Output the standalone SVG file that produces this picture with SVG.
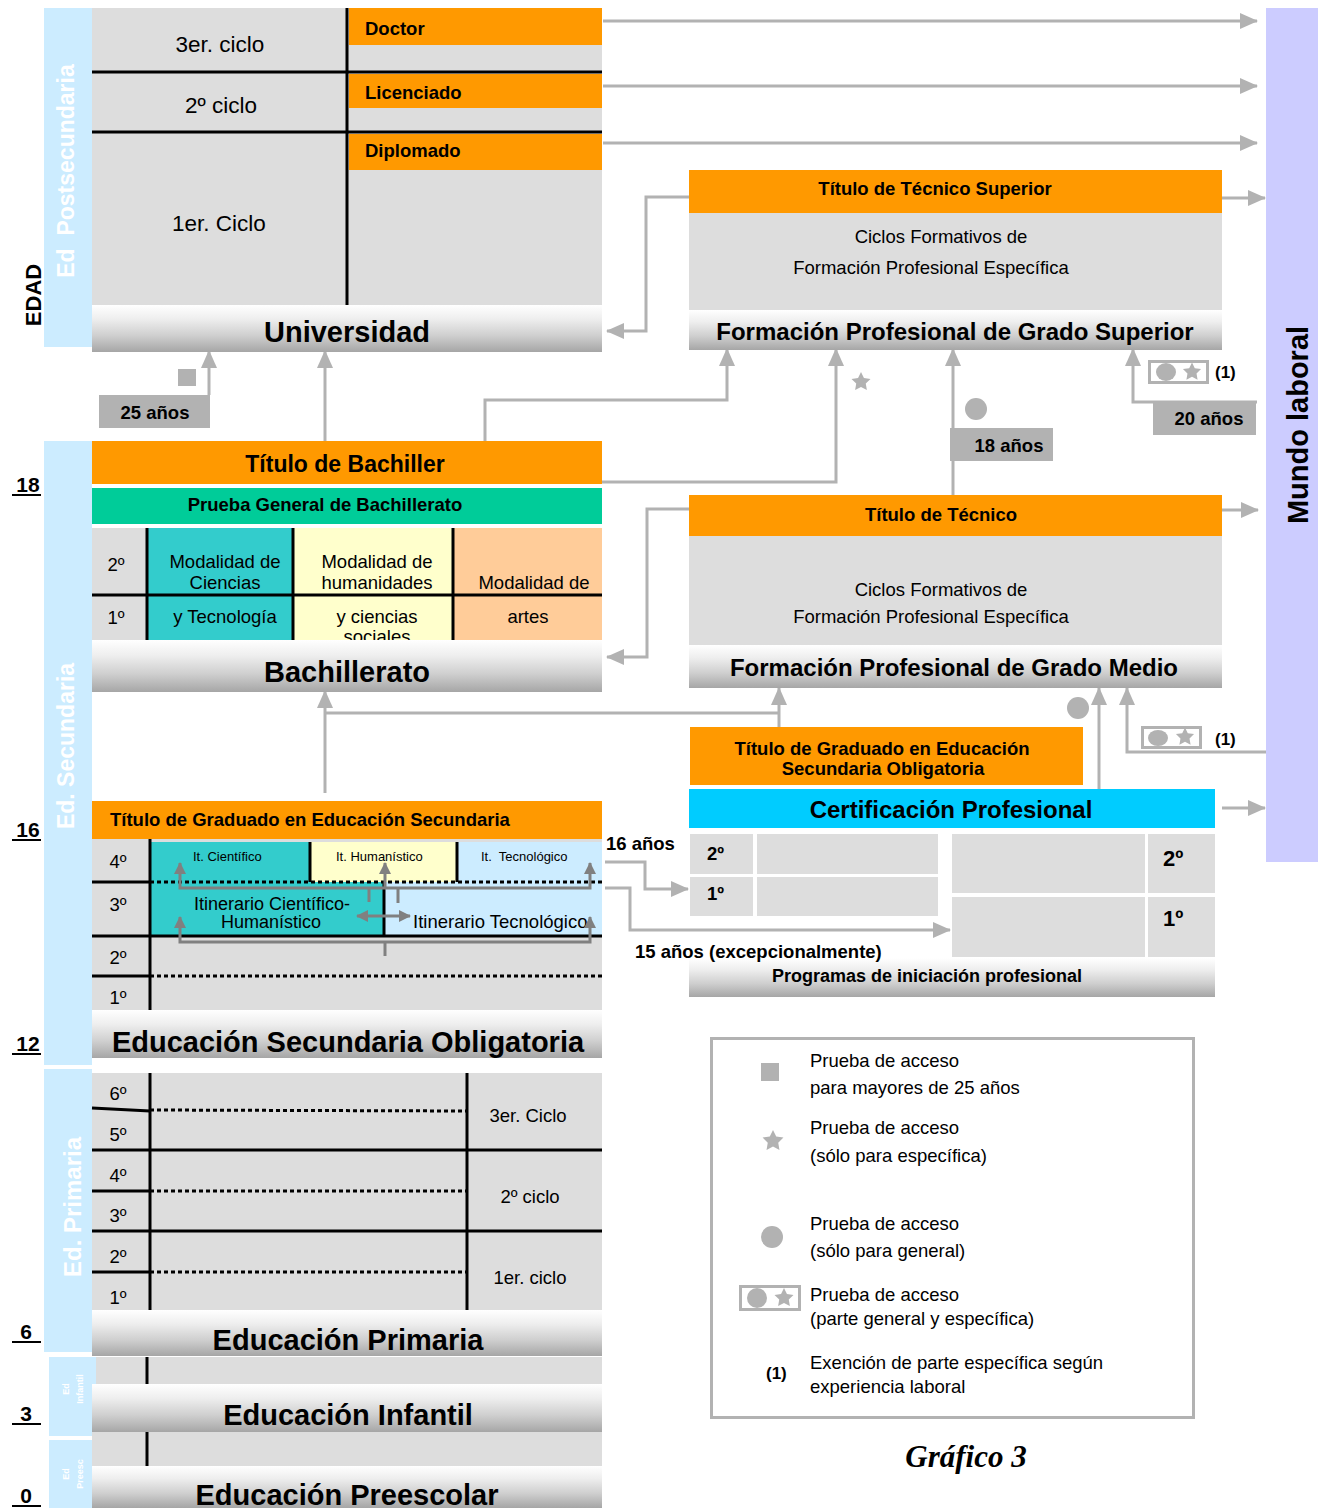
<svg xmlns="http://www.w3.org/2000/svg" width="1326" height="1508" viewBox="0 0 1326 1508">
<defs>
<style>
text{font-family:"Liberation Sans",Arial,sans-serif;fill:#000}
.b{font-weight:bold}
.t{font-size:18.5px}
.hdr{font-size:29px;font-weight:bold;text-anchor:middle}
.hdr2{font-size:24px;font-weight:bold;text-anchor:middle}
.m{text-anchor:middle}
.band{fill:#CCECFF}
.gray{fill:#DDDDDD}
.org{fill:#FF9900}
.bl{stroke:#000;stroke-width:3;fill:none}
.dot{stroke:#000;stroke-width:3;stroke-dasharray:4 3;fill:none}
.con{stroke:#B2B2B2;stroke-width:3;fill:none}
.arr{marker-end:url(#ah)}
.ito{stroke:#808080;stroke-width:3;fill:none}
.wt{fill:#FFFFFF;font-weight:bold}
.sym{fill:#B2B2B2}
.age{font-size:21px;font-weight:bold;text-anchor:middle}
.cap{font-family:"Liberation Serif","Times New Roman",serif;font-size:31px;font-weight:bold;font-style:italic;text-anchor:middle}
</style>
<linearGradient id="g" x1="0" y1="0" x2="0" y2="1">
<stop offset="0" stop-color="#FFFFFF"/>
<stop offset="0.3" stop-color="#EEEEEE"/>
<stop offset="0.65" stop-color="#CFCFCF"/>
<stop offset="1" stop-color="#A6A6A6"/>
</linearGradient>
<marker id="ah" markerUnits="userSpaceOnUse" markerWidth="18" markerHeight="16" viewBox="0 0 18 16" refX="17" refY="8" orient="auto"><path d="M0,0 L18,8 L0,16 Z" fill="#B2B2B2"/></marker>
<marker id="ah2" markerUnits="userSpaceOnUse" markerWidth="12" markerHeight="12" viewBox="0 0 12 12" refX="11" refY="6" orient="auto-start-reverse"><path d="M0,0 L12,6 L0,12 Z" fill="#808080"/></marker>
<path id="star" d="M0,-10 L2.94,-4.05 L9.51,-3.09 L4.76,1.55 L5.88,8.09 L0,5 L-5.88,8.09 L-4.76,1.55 L-9.51,-3.09 L-2.94,-4.05 Z"/>
</defs>
<rect x="0" y="0" width="1326" height="1508" fill="#FFFFFF"/>

<!-- Bands and age labels -->
<g id="bands">
<rect class="band" x="44" y="8" width="48" height="339"/>
<text class="wt" font-size="23" text-anchor="middle" style="white-space:pre" transform="translate(74,171) rotate(-90)">Ed  Postsecundaria</text>
<rect class="band" x="44" y="441" width="48" height="624"/>
<text class="wt" font-size="23" text-anchor="middle" transform="translate(74,746) rotate(-90)">Ed. Secundaria</text>
<rect class="band" x="44" y="1069" width="48" height="283"/>
<text class="wt" font-size="24" text-anchor="middle" transform="translate(81,1207) rotate(-90)">Ed. Primaria</text>
<rect class="band" x="49" y="1357" width="47" height="79"/>
<text class="wt" font-size="9" text-anchor="middle" transform="translate(69,1389) rotate(-90)">Ed</text>
<text class="wt" font-size="9" text-anchor="middle" transform="translate(83,1389) rotate(-90)">Infantil</text>
<rect class="band" x="49" y="1440" width="43" height="68"/>
<text class="wt" font-size="9" text-anchor="middle" transform="translate(69,1474) rotate(-90)">Ed</text>
<text class="wt" font-size="9" text-anchor="middle" transform="translate(83,1474) rotate(-90)">Preesc</text>
<text class="b" font-size="22" text-anchor="middle" transform="translate(41,295) rotate(-90)">EDAD</text>
</g>
<g id="ages">
<text class="age" x="28" y="492">18</text><line x1="12" y1="495" x2="41" y2="495" stroke="#000" stroke-width="2"/>
<text class="age" x="28" y="837">16</text><line x1="12" y1="840" x2="41" y2="840" stroke="#000" stroke-width="2"/>
<text class="age" x="28" y="1051">12</text><line x1="12" y1="1054" x2="41" y2="1054" stroke="#000" stroke-width="2"/>
<text class="age" x="26" y="1339">6</text><line x1="12" y1="1342" x2="41" y2="1342" stroke="#000" stroke-width="2"/>
<text class="age" x="26" y="1421">3</text><line x1="12" y1="1424" x2="41" y2="1424" stroke="#000" stroke-width="2"/>
<text class="age" x="26" y="1503">0</text><line x1="12" y1="1506" x2="41" y2="1506" stroke="#000" stroke-width="2"/>
</g>

<!-- Connectors -->
<g id="connectors">
<path class="con arr" d="M603,21 H1257"/>
<path class="con arr" d="M603,86 H1257"/>
<path class="con arr" d="M603,143 H1257"/>
<path class="con arr" d="M1222,198 H1265"/>
<path class="con arr" d="M689,197 H646 V331 H607"/>
<path class="con arr" d="M209,395 V351"/>
<path class="con arr" d="M325,441 V351"/>
<path class="con arr" d="M485,456 V400 H727 V349"/>
<path class="con arr" d="M602,482 H836 V349"/>
<path class="con arr" d="M953,495 V349"/>
<path class="con arr" d="M1257,402 H1133 V349"/>
<path class="con arr" d="M1222,510 H1258"/>
<path class="con arr" d="M689,509 H647 V657 H607"/>
<path class="con arr" d="M325,793 V691"/>
<path class="con" d="M325,713 H779"/>
<path class="con arr" d="M779,727 V688"/>
<path class="con arr" d="M1099,790 V688"/>
<path class="con arr" d="M1266,752 H1127 V688"/>
<path class="con arr" d="M1222,808 H1265"/>
<path class="con arr" d="M605,862 H645 V889 H688"/>
<path class="con arr" d="M605,888 H630 V930 H950"/>
</g>

<!-- Universidad -->
<g id="universidad">
<rect class="gray" x="92" y="8" width="510" height="297"/>
<rect class="org" x="349" y="8" width="253" height="37"/>
<rect class="org" x="349" y="74" width="253" height="34"/>
<rect class="org" x="349" y="134" width="253" height="36"/>
<line class="bl" x1="347" y1="8" x2="347" y2="305"/>
<line class="bl" x1="92" y1="72" x2="602" y2="72"/>
<line class="bl" x1="92" y1="132" x2="602" y2="132"/>
<text class="m" font-size="22.5" x="220" y="52">3er. ciclo</text>
<text class="m" font-size="22.5" x="221" y="113">2º ciclo</text>
<text class="m" font-size="22.5" x="219" y="231">1er. Ciclo</text>
<text class="b t" x="365" y="35">Doctor</text>
<text class="b t" x="365" y="99">Licenciado</text>
<text class="b t" x="365" y="157">Diplomado</text>
<rect x="92" y="305" width="510" height="47" fill="url(#g)"/>
<text class="hdr" x="347" y="342">Universidad</text>
</g>

<!-- Mundo laboral -->
<g id="mundo-laboral">
<rect x="1266" y="8" width="52" height="854" fill="#CCCCFF"/>
<text class="b" font-size="29" text-anchor="middle" transform="translate(1308,425) rotate(-90)">Mundo laboral</text>
</g>

<!-- FP Grado Superior -->
<g id="fp-grado-superior">
<rect class="org" x="689" y="170" width="533" height="43"/>
<text class="b t m" x="935" y="195">Título de Técnico Superior</text>
<rect class="gray" x="689" y="213" width="533" height="97"/>
<text class="t m" x="941" y="243">Ciclos Formativos de</text>
<text class="t m" x="931" y="274">Formación Profesional Específica</text>
<rect x="689" y="310" width="533" height="40" fill="url(#g)"/>
<text class="hdr2" x="955" y="340">Formación Profesional de Grado Superior</text>
</g>

<!-- access markers upper -->
<g id="acceso-25">
<rect class="sym" x="178" y="369" width="18" height="17"/>
<rect class="sym" x="99" y="395" width="111" height="33"/>
<text class="b t m" x="155" y="419">25 años</text>
</g>
<g id="acceso-star">
<use href="#star" class="sym" transform="translate(861,382)"/>
</g>
<g id="acceso-18">
<circle class="sym" cx="976" cy="409" r="11"/>
<rect class="sym" x="950" y="428" width="103" height="33"/>
<text class="b t m" x="1009" y="452">18 años</text>
</g>
<g id="acceso-20">
<rect x="1149.5" y="361.5" width="58" height="21" fill="none" stroke="#B2B2B2" stroke-width="3"/>
<ellipse class="sym" cx="1166" cy="372" rx="10" ry="9"/>
<use href="#star" class="sym" transform="translate(1192,372) scale(0.95)"/>
<text class="b" font-size="17" x="1215" y="378">(1)</text>
<rect class="sym" x="1153" y="403" width="103" height="32"/>
<text class="b t m" x="1209" y="425">20 años</text>
</g>

<!-- Bachillerato -->
<g id="bachillerato">
<rect class="org" x="92" y="441" width="510" height="43"/>
<text class="b m" font-size="23" x="345" y="472">Título de Bachiller</text>
<rect x="92" y="488" width="510" height="36" fill="#00CC99"/>
<text class="b t m" x="325" y="511">Prueba General de Bachillerato</text>
<rect class="gray" x="92" y="528" width="510" height="112"/>
<rect x="147" y="528" width="146" height="112" fill="#33CCCC"/>
<rect x="293" y="528" width="160" height="112" fill="#FFFFCC"/>
<rect x="453" y="528" width="149" height="112" fill="#FFCC99"/>
<line class="bl" x1="147" y1="528" x2="147" y2="640"/>
<line class="bl" x1="293" y1="528" x2="293" y2="640"/>
<line class="bl" x1="453" y1="528" x2="453" y2="640"/>
<line class="bl" x1="92" y1="595" x2="602" y2="595"/>
<text class="t m" x="116" y="571">2º</text>
<text class="t m" x="116" y="624">1º</text>
<text class="t m" x="225" y="568">Modalidad de</text>
<text class="t m" x="225" y="589">Ciencias</text>
<text class="t m" x="225" y="623">y Tecnología</text>
<text class="t m" x="377" y="568">Modalidad de</text>
<text class="t m" x="377" y="589">humanidades</text>
<text class="t m" x="377" y="623">y ciencias</text>
<text class="t m" x="377" y="643">sociales</text>
<text class="t m" x="534" y="589">Modalidad de</text>
<text class="t m" x="528" y="623">artes</text>
<rect x="92" y="640" width="510" height="52" fill="url(#g)"/>
<text class="hdr" x="347" y="682">Bachillerato</text>
</g>

<!-- FP Grado Medio -->
<g id="fp-grado-medio">
<rect class="org" x="689" y="495" width="533" height="41"/>
<text class="b t m" x="941" y="521">Título de Técnico</text>
<rect class="gray" x="689" y="536" width="533" height="109"/>
<text class="t m" x="941" y="596">Ciclos Formativos de</text>
<text class="t m" x="931" y="623">Formación Profesional Específica</text>
<rect x="689" y="645" width="533" height="43" fill="url(#g)"/>
<text class="hdr2" x="954" y="676">Formación Profesional de Grado Medio</text>
</g>

<!-- access markers middle -->
<g id="acceso-medio">
<circle class="sym" cx="1078" cy="708" r="11"/>
<rect x="1142.5" y="727.5" width="58" height="20" fill="none" stroke="#B2B2B2" stroke-width="3"/>
<ellipse class="sym" cx="1158" cy="738" rx="10" ry="8"/>
<use href="#star" class="sym" transform="translate(1185,737) scale(0.95)"/>
<text class="b" font-size="17" x="1215" y="745">(1)</text>
</g>

<!-- Programas de iniciación profesional -->
<g id="programas">
<rect class="org" x="690" y="727" width="393" height="58"/>
<text class="b t m" x="882" y="755">Título de Graduado en Educación</text>
<text class="b t m" x="883" y="775">Secundaria Obligatoria</text>
<rect x="689" y="789" width="526" height="39" fill="#00CCFF"/>
<text class="hdr2" x="951" y="818">Certificación Profesional</text>
<rect class="gray" x="690" y="834" width="63" height="40"/>
<rect class="gray" x="757" y="834" width="181" height="40"/>
<rect class="gray" x="690" y="877" width="63" height="39"/>
<rect class="gray" x="757" y="877" width="181" height="39"/>
<rect class="gray" x="952" y="834" width="193" height="59"/>
<rect class="gray" x="1148" y="834" width="67" height="59"/>
<rect class="gray" x="952" y="897" width="193" height="60"/>
<rect class="gray" x="1148" y="897" width="67" height="60"/>
<text class="b t" x="707" y="860">2º</text>
<text class="b t" x="707" y="900">1º</text>
<text class="b" font-size="22" x="1163" y="866">2º</text>
<text class="b" font-size="22" x="1163" y="926">1º</text>
<rect x="689" y="958" width="526" height="39" fill="url(#g)"/>
<text class="b m" font-size="18" x="927" y="982">Programas de iniciación profesional</text>
<text class="b t" x="606" y="850">16 años</text>
<text class="b t" x="635" y="958">15 años (excepcionalmente)</text>
</g>

<!-- ESO -->
<g id="eso">
<rect class="org" x="92" y="801" width="510" height="38"/>
<text class="b t" x="110" y="826">Título de Graduado en Educación Secundaria</text>
<rect class="gray" x="92" y="839" width="510" height="171"/>
<rect x="150" y="842" width="160" height="40" fill="#33CCCC"/>
<rect x="310" y="842" width="147" height="40" fill="#FFFFCC"/>
<rect x="457" y="842" width="145" height="40" fill="#CCECFF"/>
<rect x="150" y="882" width="234" height="54" fill="#33CCCC"/>
<rect x="384" y="882" width="218" height="54" fill="#CCECFF"/>
<line class="bl" x1="150" y1="839" x2="150" y2="1010"/>
<line class="bl" x1="310" y1="842" x2="310" y2="882"/>
<line class="bl" x1="457" y1="842" x2="457" y2="882"/>
<line class="bl" x1="384" y1="882" x2="384" y2="936"/>
<line class="bl" x1="92" y1="882" x2="150" y2="882"/>
<line class="dot" x1="150" y1="882" x2="602" y2="882"/>
<line class="bl" x1="92" y1="936" x2="602" y2="936"/>
<line class="bl" x1="92" y1="976" x2="150" y2="976"/>
<line class="dot" x1="150" y1="976" x2="602" y2="976"/>
<text class="t m" x="118" y="868">4º</text>
<text class="t m" x="118" y="911">3º</text>
<text class="t m" x="118" y="964">2º</text>
<text class="t m" x="118" y="1004">1º</text>
<text font-size="13" x="193" y="861">It. Científico</text>
<text font-size="13" x="336" y="861">It. Humanístico</text>
<text font-size="13" x="481" y="861" style="white-space:pre">It.  Tecnológico</text>
<text class="m" font-size="18" x="272" y="910">Itinerario Científico-</text>
<text class="m" font-size="18" x="271" y="928">Humanístico</text>
<text class="t" x="413" y="928">Itinerario Tecnológico</text>
<path class="ito" d="M180,863 V888 H590 V863" marker-start="url(#ah2)" marker-end="url(#ah2)"/>
<path class="ito" d="M385,888 V863" marker-end="url(#ah2)"/>
<path class="ito" d="M369,888 V902 M398,888 V903"/>
<path class="ito" d="M180,917 V942 H590 V917" marker-start="url(#ah2)" marker-end="url(#ah2)"/>
<path class="ito" d="M385,942 V956"/>
<path class="ito" d="M357,916 H410" marker-start="url(#ah2)" marker-end="url(#ah2)"/>
<rect x="92" y="1010" width="510" height="48" fill="url(#g)"/>
<text class="hdr" x="348" y="1052">Educación Secundaria Obligatoria</text>
</g>

<!-- Primaria -->
<g id="primaria">
<rect class="gray" x="92" y="1073" width="510" height="237"/>
<line class="bl" x1="150" y1="1073" x2="150" y2="1310"/>
<line class="bl" x1="467" y1="1073" x2="467" y2="1310"/>
<line class="bl" x1="92" y1="1150" x2="602" y2="1150"/>
<line class="bl" x1="92" y1="1231" x2="602" y2="1231"/>
<line class="bl" x1="92" y1="1108" x2="150" y2="1111"/>
<line class="bl" x1="92" y1="1191" x2="150" y2="1191"/>
<line class="bl" x1="92" y1="1272" x2="150" y2="1272"/>
<line class="dot" x1="150" y1="1110" x2="467" y2="1111"/>
<line class="dot" x1="150" y1="1191" x2="467" y2="1191"/>
<line class="dot" x1="150" y1="1272" x2="467" y2="1272"/>
<text class="t m" x="118" y="1100">6º</text>
<text class="t m" x="118" y="1141">5º</text>
<text class="t m" x="118" y="1182">4º</text>
<text class="t m" x="118" y="1222">3º</text>
<text class="t m" x="118" y="1263">2º</text>
<text class="t m" x="118" y="1304">1º</text>
<text class="t m" x="528" y="1122">3er. Ciclo</text>
<text class="t m" x="530" y="1203">2º ciclo</text>
<text class="t m" x="530" y="1284">1er. ciclo</text>
<rect x="92" y="1310" width="510" height="46" fill="url(#g)"/>
<text class="hdr" x="348" y="1350">Educación Primaria</text>
</g>

<!-- Infantil -->
<g id="infantil">
<rect class="gray" x="96" y="1357" width="506" height="27"/>
<line class="bl" x1="147" y1="1357" x2="147" y2="1384"/>
<rect x="92" y="1384" width="510" height="48" fill="url(#g)"/>
<text class="hdr" x="348" y="1425">Educación Infantil</text>
</g>

<!-- Preescolar -->
<g id="preescolar">
<rect class="gray" x="92" y="1432" width="510" height="34"/>
<line class="bl" x1="147" y1="1432" x2="147" y2="1466"/>
<rect x="92" y="1466" width="510" height="42" fill="url(#g)"/>
<text class="hdr" x="347" y="1505">Educación Preescolar</text>
</g>

<!-- Legend -->
<g id="legend">
<rect x="711.5" y="1038.5" width="482" height="379" fill="#FFFFFF" stroke="#B2B2B2" stroke-width="3"/>
<rect class="sym" x="761" y="1063" width="18" height="18"/>
<text class="t" x="810" y="1067">Prueba de acceso</text>
<text class="t" x="810" y="1094">para mayores de 25 años</text>
<use href="#star" class="sym" transform="translate(773,1141) scale(1.1)"/>
<text class="t" x="810" y="1134">Prueba de acceso</text>
<text class="t" x="810" y="1162">(sólo para específica)</text>
<circle class="sym" cx="772" cy="1237" r="11"/>
<text class="t" x="810" y="1230">Prueba de acceso</text>
<text class="t" x="810" y="1257">(sólo para general)</text>
<rect x="740.5" y="1286.5" width="59" height="23" fill="none" stroke="#B2B2B2" stroke-width="3"/>
<circle class="sym" cx="757" cy="1298" r="10"/>
<use href="#star" class="sym" transform="translate(784,1298)"/>
<text class="t" x="810" y="1301">Prueba de acceso</text>
<text class="t" x="810" y="1325">(parte general y específica)</text>
<text class="b" font-size="17" x="766" y="1379">(1)</text>
<text class="t" x="810" y="1369">Exención de parte específica según</text>
<text class="t" x="810" y="1393">experiencia laboral</text>
</g>

<g id="caption">
<text class="cap" x="966" y="1467">Gráfico 3</text>
</g>
</svg>
